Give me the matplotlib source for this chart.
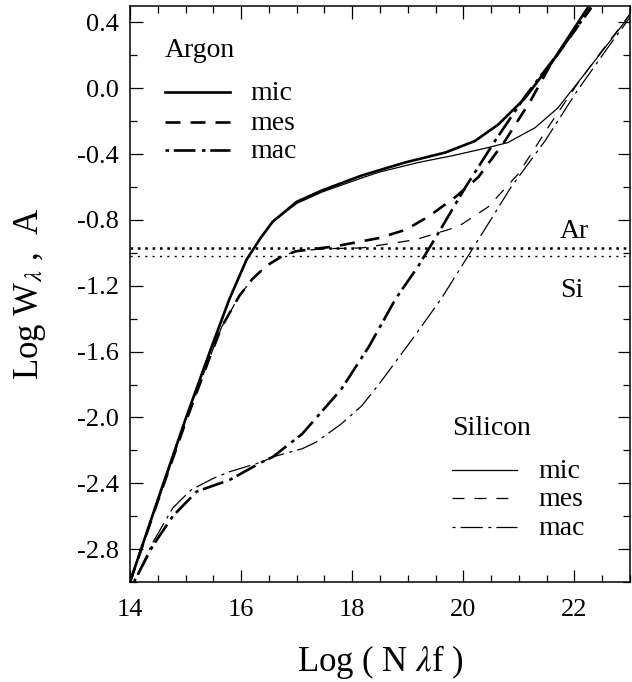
import matplotlib
matplotlib.use("Agg")
import matplotlib.pyplot as plt
from matplotlib.ticker import MultipleLocator, FormatStrFormatter

plt.rcParams['font.family'] = ['Liberation Serif', 'DejaVu Serif']
plt.rcParams['mathtext.fontset'] = 'stix'
plt.rcParams['axes.unicode_minus'] = False
plt.rcParams['lines.scale_dashes'] = False

# curves of growth
ar_mic_x = [14.0, 14.5, 15.0, 15.47, 15.79, 16.1, 16.35, 16.57, 17.0, 17.46, 18.17,
            18.96, 19.68, 20.21, 20.63, 21.11, 21.58, 22.24]
ar_mic_y = [-3.0, -2.5, -2.01, -1.57, -1.28, -1.04, -0.91, -0.81, -0.69, -0.62, -0.53,
            -0.45, -0.39, -0.32, -0.22, -0.06, 0.15, 0.49]

ar_mes_x = [14.0, 14.5, 15.0, 15.43, 15.65, 15.97, 16.2, 16.45, 16.74, 16.99, 17.7,
            18.48, 18.96, 19.37, 19.86, 20.27, 20.75, 21.22, 21.58, 22.3]
ar_mes_y = [-3.0, -2.51, -2.03, -1.64, -1.45, -1.26, -1.16, -1.08, -1.02, -0.99, -0.96,
            -0.91, -0.86, -0.78, -0.66, -0.54, -0.32, -0.07, 0.15, 0.49]

ar_mac_x = [14.07, 14.41, 14.77, 15.2, 15.79, 16.38, 16.57, 17.1, 17.8, 18.3,
            18.78, 19.19, 19.55, 20.04, 20.57, 21.11, 21.7, 22.3]
ar_mac_y = [-3.0, -2.78, -2.6, -2.45, -2.38, -2.27, -2.24, -2.1, -1.83, -1.57,
            -1.28, -1.08, -0.88, -0.60, -0.32, -0.05, 0.21, 0.49]

si_mic_x = [14.0, 14.5, 15.0, 15.47, 15.79, 16.1, 16.35, 16.57, 17.0, 17.46, 18.17,
            18.48, 19.2, 19.8, 20.45, 20.8, 21.29, 21.7, 22.19, 22.9, 23.0]
si_mic_y = [-3.0, -2.5, -2.01, -1.57, -1.28, -1.04, -0.91, -0.81, -0.70, -0.63, -0.545,
            -0.51, -0.45, -0.41, -0.36, -0.33, -0.24, -0.12, 0.09, 0.40, 0.45]

si_mes_x = [14.0, 14.5, 15.0, 15.43, 15.65, 15.97, 16.2, 16.45, 16.74, 16.99, 17.5,
            18.17, 19.14, 19.91, 20.45, 20.99, 21.58, 22.06, 22.5, 23.0]
si_mes_y = [-3.0, -2.51, -2.03, -1.64, -1.45, -1.26, -1.16, -1.08, -1.02, -0.99, -0.975,
            -0.97, -0.92, -0.84, -0.72, -0.52, -0.21, 0.03, 0.23, 0.45]

si_mac_x = [14.07, 14.41, 14.77, 15.1, 15.5, 15.79, 16.38, 16.57, 17.1, 17.35, 17.8,
            18.17, 18.5, 19.07, 19.6, 20.27, 20.86, 21.47, 22.06, 22.65, 23.0]
si_mac_y = [-3.0, -2.76, -2.55, -2.44, -2.37, -2.33, -2.27, -2.24, -2.19, -2.15, -2.04,
            -1.93, -1.79, -1.53, -1.28, -0.92, -0.60, -0.32, -0.01, 0.27, 0.43]

# saturation levels
ar_level = -0.97
si_level = -1.02

labels = ['mic', 'mes', 'mac']

thick = 1.9
thin = 0.9
ls_mic = '-'
ls_mes_ar = (0, (10.8, 7.2))
ls_mac_ar = (0, (2.6, 3.4, 15.6, 4.6))
ls_mes_si = (0, (8.6, 7.2))
ls_mac_si = (0, (2.2, 3.6, 16.0, 4.0))

fig = plt.figure(figsize=(6.32, 6.82), dpi=100)
ax = fig.add_axes([0.2057, 0.1466, 0.7911, 0.8446])

ax.plot(ar_mic_x, ar_mic_y, color='black', lw=thick, ls=ls_mic)
ax.plot(ar_mes_x, ar_mes_y, color='black', lw=thick, ls=ls_mes_ar)
ax.plot(ar_mac_x, ar_mac_y, color='black', lw=thick, ls=ls_mac_ar)
ax.plot(si_mic_x, si_mic_y, color='black', lw=thin, ls=ls_mic)
ax.plot(si_mes_x, si_mes_y, color='black', lw=thin, ls=ls_mes_si)
ax.plot(si_mac_x, si_mac_y, color='black', lw=thin, ls=ls_mac_si)

ax.axhline(ar_level, color='black', lw=1.8, ls=(0, (1.9, 3.4)))
ax.axhline(si_level, color='black', lw=1.0, ls=(0, (1.5, 3.8)))
ax.text(21.74, ar_level + 0.1, 'Ar', fontsize=20, va='center', ha='left')
ax.text(21.74, si_level - 0.21, 'Si', fontsize=20, va='center', ha='left')

# hand drawn legends
ax.text(0.07, 0.911, 'Argon', transform=ax.transAxes, fontsize=20)
ar_y = [0.851, 0.799, 0.75]
for yy, ls, lab in zip(ar_y, [ls_mic, ls_mes_ar, ls_mac_ar], labels):
    ax.plot([0.07, 0.2], [yy, yy], transform=ax.transAxes, color='black',
            lw=thick, ls=ls)
    ax.text(0.24, yy - 0.014, lab, transform=ax.transAxes, fontsize=20)

ax.text(0.644, 0.255, 'Silicon', transform=ax.transAxes, fontsize=20)
si_y = [0.194, 0.146, 0.095]
for yy, ls, lab in zip(si_y, [ls_mic, ls_mes_si, ls_mac_si], labels):
    ax.plot([0.644, 0.774], [yy, yy], transform=ax.transAxes, color='black',
            lw=thin, ls=ls)
    ax.text(0.816, yy - 0.014, lab, transform=ax.transAxes, fontsize=20)

ax.set_xlim(14, 23)
ax.set_ylim(-3.0, 0.5)
ax.xaxis.set_major_locator(MultipleLocator(2))
ax.xaxis.set_minor_locator(MultipleLocator(0.5))
ax.yaxis.set_major_locator(MultipleLocator(0.4))
ax.yaxis.set_minor_locator(MultipleLocator(0.2))
ax.yaxis.set_major_formatter(FormatStrFormatter('%.1f'))
ax.set_yticks([0.4, 0.0, -0.4, -0.8, -1.2, -1.6, -2.0, -2.4, -2.8])
ax.tick_params(which='both', direction='in', top=True, right=True,
               labelsize=19, width=0.9)
ax.tick_params(which='major', length=9)
ax.tick_params(which='minor', length=5)
ax.tick_params(axis='x', pad=12)
ax.tick_params(axis='y', pad=8)
for s in ax.spines.values():
    s.set_linewidth(1.1)

ax.set_xlabel('Log ( N $\\lambda$f )', fontsize=25, labelpad=16)
ax.set_ylabel('Log W$_{\\lambda}$ ,  A', fontsize=25, labelpad=21)

fig.savefig('out.png', dpi=100)
